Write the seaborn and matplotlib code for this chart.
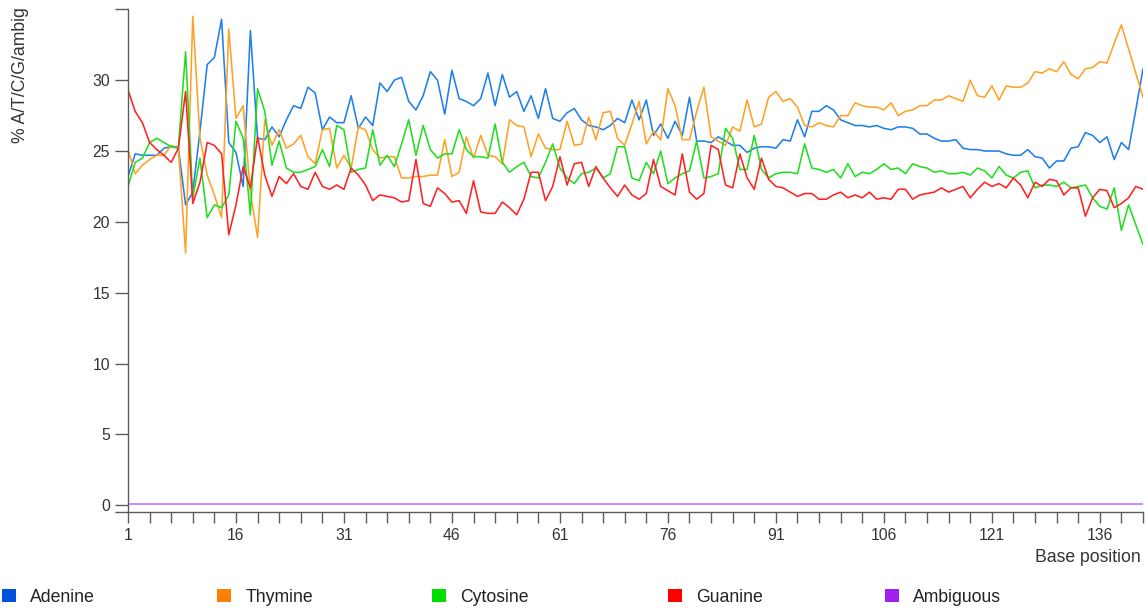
import numpy as np
import pandas as pd
import matplotlib
matplotlib.use("Agg")
import matplotlib.pyplot as plt
import seaborn as sns
from matplotlib.patches import Patch

# Per-base sequence content (% of reads) for positions 1..142
adenine = [
    23.2, 24.8, 24.7, 24.7, 24.7, 25.2, 25.3, 25.2, 21.2, 22.1, 26.4, 31.1, 31.6, 34.3, 25.6, 24.9,
    22.5, 33.5, 25.9, 25.8, 26.7, 26.0, 27.2, 28.2, 28.0, 29.5, 29.1, 26.5, 27.4, 27.0, 27.0, 28.9,
    26.6, 27.4, 26.8, 29.8, 29.2, 30.0, 30.2, 28.5, 27.9, 28.9, 30.6, 30.0, 27.6, 30.7, 28.7, 28.5,
    28.2, 28.7, 30.5, 28.2, 30.4, 28.8, 29.2, 27.8, 28.9, 27.3, 29.4, 27.3, 27.1, 27.7, 28.0, 27.2,
    26.8, 26.7, 26.5, 26.8, 27.3, 27.0, 28.6, 27.2, 28.6, 26.1, 26.9, 25.9, 27.1, 26.1, 28.8, 25.7,
    25.7, 25.6, 26.0, 25.7, 25.4, 25.4, 24.9, 25.2, 25.3, 25.3, 25.2, 25.8, 25.7, 27.2, 26.0, 27.8,
    27.8, 28.2, 27.9, 27.2, 27.0, 26.8, 26.8, 26.7, 26.8, 26.6, 26.5, 26.7, 26.7, 26.6, 26.2, 26.2,
    25.9, 25.7, 25.7, 25.8, 25.2, 25.1, 25.1, 25.0, 25.0, 25.0, 24.8, 24.7, 24.7, 25.1, 24.6, 24.5,
    23.8, 24.3, 24.3, 25.2, 25.3, 26.3, 26.1, 25.6, 26.0, 24.4, 25.6, 25.1, 27.9, 30.8,
]
thymine = [
    25.1, 23.4, 24.0, 24.4, 24.7, 24.7, 25.4, 25.2, 17.8, 34.5, 25.9, 23.3, 21.9, 20.3, 33.6, 27.3,
    28.2, 22.1, 18.9, 27.2, 25.4, 26.5, 25.2, 25.5, 26.1, 24.6, 24.1, 26.5, 26.6, 23.8, 24.7, 23.8,
    26.7, 26.5, 25.1, 24.5, 24.6, 24.6, 23.1, 23.1, 23.2, 23.2, 23.3, 23.3, 25.8, 23.2, 23.5, 26.0,
    24.5, 26.1, 24.7, 24.6, 24.1, 27.2, 26.8, 26.7, 24.6, 26.2, 25.2, 25.1, 25.1, 27.1, 25.4, 25.5,
    27.4, 25.8, 27.7, 27.8, 25.9, 25.4, 26.9, 28.5, 25.5, 26.4, 25.8, 29.4, 28.2, 25.8, 25.8, 27.8,
    29.5, 26.0, 25.7, 25.4, 26.7, 26.4, 28.6, 26.7, 26.9, 28.8, 29.2, 28.5, 28.7, 28.1, 26.8, 26.7,
    27.0, 26.8, 26.7, 27.5, 27.5, 28.4, 28.2, 28.1, 28.1, 27.9, 28.4, 27.5, 27.8, 27.9, 28.2, 28.2,
    28.6, 28.6, 28.9, 28.7, 28.5, 30.0, 28.9, 28.8, 29.6, 28.6, 29.6, 29.5, 29.5, 29.8, 30.6, 30.5,
    30.8, 30.6, 31.3, 30.4, 30.1, 30.8, 30.9, 31.3, 31.2, 32.6, 33.9, 32.2, 30.5, 28.8,
]
cytosine = [
    22.5, 24.2, 24.5, 25.6, 25.9, 25.6, 25.3, 25.3, 32.0, 21.7, 24.5, 20.3, 21.2, 21.0, 21.9, 27.1,
    25.9, 20.5, 29.4, 27.8, 24.0, 25.7, 23.8, 23.5, 23.5, 23.7, 23.9, 25.1, 23.9, 26.8, 26.5, 23.5,
    23.7, 23.8, 26.5, 24.0, 24.7, 23.9, 25.5, 27.2, 24.7, 26.8, 25.1, 24.5, 24.8, 24.8, 26.5, 25.1,
    24.6, 24.6, 24.5, 26.9, 24.2, 23.5, 23.9, 24.2, 23.2, 23.1, 24.2, 25.5, 23.8, 23.1, 22.7, 23.4,
    23.5, 23.8, 23.1, 23.4, 25.3, 25.3, 23.1, 22.9, 24.2, 23.4, 25.0, 22.7, 23.1, 23.4, 23.6, 25.7,
    23.1, 23.2, 23.4, 26.6, 25.9, 23.7, 23.7, 26.1, 23.7, 23.1, 23.4, 23.5, 23.5, 23.4, 25.5, 23.8,
    23.7, 23.5, 23.7, 23.1, 24.1, 23.2, 23.5, 23.4, 23.7, 24.1, 23.7, 23.8, 23.4, 24.1, 23.9, 23.8,
    23.5, 23.6, 23.4, 23.4, 23.5, 23.3, 23.8, 23.6, 23.1, 23.9, 23.3, 23.1, 23.5, 23.6, 22.4, 22.6,
    22.6, 22.5, 22.8, 22.4, 22.5, 22.6, 21.7, 21.1, 20.9, 22.4, 19.4, 21.2, 19.8, 18.4,
]
guanine = [
    29.3, 27.8, 27.0, 25.6, 25.1, 24.7, 24.2, 25.2, 29.2, 21.3, 22.8, 25.6, 25.4, 24.8, 19.1, 21.2,
    23.9, 22.4, 26.0, 23.3, 21.8, 23.2, 22.7, 23.4, 22.5, 22.3, 23.5, 22.5, 22.3, 22.6, 22.3, 23.8,
    23.3, 22.6, 21.5, 21.9, 21.8, 21.7, 21.4, 21.5, 24.4, 21.3, 21.1, 22.4, 22.0, 21.4, 21.5, 20.6,
    22.9, 20.7, 20.6, 20.6, 21.4, 21.0, 20.5, 21.6, 23.5, 23.5, 21.5, 22.5, 24.6, 22.6, 24.1, 24.2,
    22.5, 23.9, 23.1, 22.4, 21.8, 22.6, 21.9, 21.6, 22.0, 24.4, 22.5, 22.2, 21.9, 24.8, 22.1, 21.6,
    22.0, 25.4, 25.1, 22.6, 22.4, 24.8, 23.1, 22.3, 24.5, 23.0, 22.5, 22.4, 22.1, 21.8, 22.0, 22.0,
    21.6, 21.6, 21.9, 22.1, 21.7, 21.9, 21.7, 22.1, 21.6, 21.7, 21.6, 22.3, 22.3, 21.6, 21.9, 22.0,
    22.1, 22.4, 22.1, 22.3, 22.5, 21.7, 22.3, 22.8, 22.5, 22.7, 22.4, 23.1, 22.6, 21.7, 22.8, 22.5,
    23.0, 22.9, 21.9, 22.4, 22.4, 20.4, 21.7, 22.3, 22.2, 21.0, 21.3, 21.7, 22.5, 22.3,
]
ambiguous = [
    0.1, 0.1, 0.1, 0.1, 0.1, 0.1, 0.1, 0.1, 0.1, 0.1, 0.1, 0.1, 0.1, 0.1, 0.1, 0.1,
    0.1, 0.1, 0.1, 0.1, 0.1, 0.1, 0.1, 0.1, 0.1, 0.1, 0.1, 0.1, 0.1, 0.1, 0.1, 0.1,
    0.1, 0.1, 0.1, 0.1, 0.1, 0.1, 0.1, 0.1, 0.1, 0.1, 0.1, 0.1, 0.1, 0.1, 0.1, 0.1,
    0.1, 0.1, 0.1, 0.1, 0.1, 0.1, 0.1, 0.1, 0.1, 0.1, 0.1, 0.1, 0.1, 0.1, 0.1, 0.1,
    0.1, 0.1, 0.1, 0.1, 0.1, 0.1, 0.1, 0.1, 0.1, 0.1, 0.1, 0.1, 0.1, 0.1, 0.1, 0.1,
    0.1, 0.1, 0.1, 0.1, 0.1, 0.1, 0.1, 0.1, 0.1, 0.1, 0.1, 0.1, 0.1, 0.1, 0.1, 0.1,
    0.1, 0.1, 0.1, 0.1, 0.1, 0.1, 0.1, 0.1, 0.1, 0.1, 0.1, 0.1, 0.1, 0.1, 0.1, 0.1,
    0.1, 0.1, 0.1, 0.1, 0.1, 0.1, 0.1, 0.1, 0.1, 0.1, 0.1, 0.1, 0.1, 0.1, 0.1, 0.1,
    0.1, 0.1, 0.1, 0.1, 0.1, 0.1, 0.1, 0.1, 0.1, 0.1, 0.1, 0.1, 0.1, 0.1,
]

bases = ["Adenine", "Thymine", "Cytosine", "Guanine", "Ambiguous"]
line_colors = ["#1f80ea", "#ffa126", "#22dd22", "#ff2222", "#c070ff"]
legend_colors = ["#0052dc", "#ff8000", "#00dd00", "#ff0000", "#a020f0"]
legend_x_px = [2, 217, 432, 668, 885]
x_labels = [1, 16, 31, 46, 61, 76, 91, 106, 121, 136]
y_labels = [0, 5, 10, 15, 20, 25, 30]

positions = list(range(1, len(adenine) + 1))
df = pd.DataFrame({
    "Base position": positions,
    "Adenine": adenine,
    "Thymine": thymine,
    "Cytosine": cytosine,
    "Guanine": guanine,
    "Ambiguous": ambiguous,
}).melt(id_vars="Base position", var_name="Base", value_name="Percent")

sns.set_style("ticks")
plt.rcParams["font.family"] = ["Liberation Sans", "DejaVu Sans"]

W, H = 1146, 610
fig = plt.figure(figsize=(W / 100, H / 100), dpi=100)
ax = fig.add_axes([128 / W, 1 - 511.7 / H, 1015 / W, (511.7 - 9.3) / H])

sns.lineplot(
    data=df, x="Base position", y="Percent", hue="Base", hue_order=bases,
    palette=line_colors, linewidth=1.15, estimator=None, legend=False, ax=ax,
)

ax.set_xlim(1, 142)
ax.set_ylim(-0.45, 35)
ax.set_xlabel("")
ax.set_ylabel("")

axis_color = "#5c5c5c"
text_color = "#333333"
title_size = 12.7
tick_size = 11.3
for side in ("top", "right"):
    ax.spines[side].set_visible(False)
for side in ("left", "bottom"):
    ax.spines[side].set_color(axis_color)
    ax.spines[side].set_linewidth(1.0)

ax.set_xticks(x_labels)
ax.set_xticklabels([str(v) for v in x_labels])
ax.set_xticks([v for v in range(1, 143, 3) if v not in x_labels], minor=True)
ax.set_yticks(y_labels)
ax.set_yticklabels([str(v) for v in y_labels])
ax.set_yticks([-0.45, 35], minor=True)

ax.tick_params(axis="x", which="both", length=8, width=1.0, color=axis_color,
               labelsize=tick_size, labelcolor=text_color, pad=3.5)
ax.tick_params(axis="y", which="both", length=9.4, width=1.0, color=axis_color,
               labelsize=tick_size, labelcolor=text_color, pad=3.5)

fig.text(21 / W, 1 - 7 / H, "% A/T/C/G/ambig", rotation=90, ha="center", va="top",
         fontsize=title_size, color=text_color)
fig.text(1141 / W, 1 - 558 / H, "Base position", ha="right", va="center",
         fontsize=title_size, color=text_color)

for name, col, xp in zip(bases, legend_colors, legend_x_px):
    leg = fig.legend(
        handles=[Patch(facecolor=col, edgecolor="none", label=name)],
        loc="center left", bbox_to_anchor=(xp / W, 1 - 597 / H),
        frameon=False, fontsize=title_size, handlelength=0.8, handleheight=0.8,
        handletextpad=0.8, borderpad=0, borderaxespad=0,
    )
    for t in leg.get_texts():
        t.set_color("#222222")

fig.savefig("out.png", dpi=100)
